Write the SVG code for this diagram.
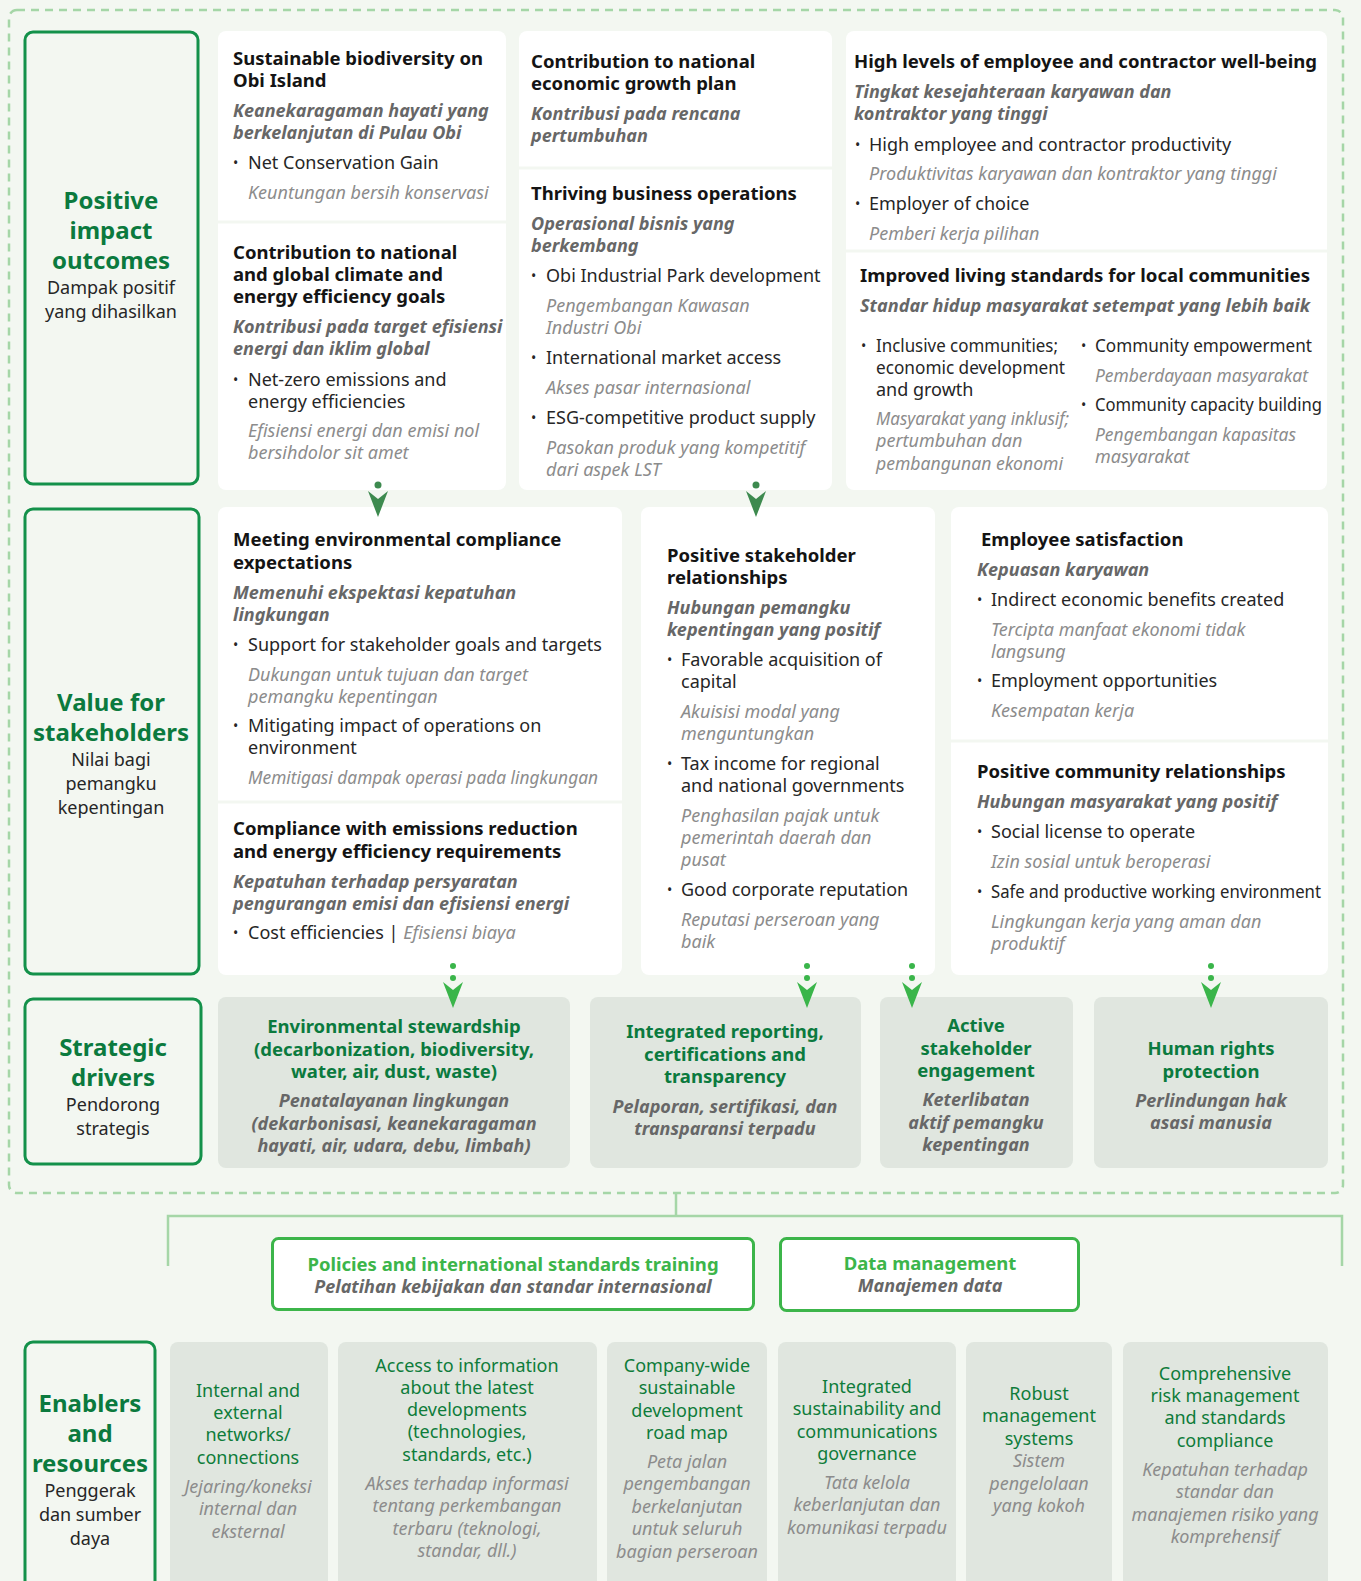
<svg xmlns="http://www.w3.org/2000/svg" width="1361" height="1581" viewBox="0 0 1361 1581">
<style>
text{font-family:"Noto Sans","Open Sans","Liberation Sans",sans-serif}
.t{font-weight:bold;font-size:18.5px;fill:#141414}
.s{font-weight:bold;font-style:italic;font-size:18px;fill:#676767}
.b{font-size:18px;fill:#262626}
.i{font-style:italic;font-size:18px;fill:#8c8c8c}
.dot{font-size:14px;fill:#262626}
.lh{font-weight:bold;font-size:24px;fill:#0b7a3e;text-anchor:middle}
.ls{font-size:18px;fill:#262626;text-anchor:middle}
.dt{font-weight:bold;font-size:18.5px;fill:#0b7a3e;text-anchor:middle}
.di{font-weight:bold;font-style:italic;font-size:18px;fill:#676767;text-anchor:middle}
.et{font-size:18px;fill:#0e7c3a;text-anchor:middle}
.ei{font-style:italic;font-size:18px;fill:#8c8c8c;text-anchor:middle}
.pt{font-weight:bold;font-size:18.5px;fill:#3cb54a;text-anchor:middle}
.lbl{fill:#f3f7f1;stroke:#13914a;stroke-width:3}
.card{fill:#ffffff}
.sep{stroke:#f3f7f1;stroke-width:3}
.gray{fill:#e0e6df}
.conn{fill:none;stroke:#a5d6a7;stroke-width:2.5}
.a1{fill:#3d8a4f}
.a2{fill:#3ab54a}
</style>
<defs>
<path id="ah" d="M-10,0 L0,8 L10,0 L0,26 Z"/>
</defs>
<rect x="0" y="0" width="1361" height="1581" fill="#f3f7f1"/>
<rect x="9" y="10" width="1334" height="1183" rx="8" fill="none" stroke="#a5d6a7" stroke-width="2.5" stroke-dasharray="8 6"/>

<!-- Left labels -->
<g id="label-outcomes">
<rect class="lbl" x="25" y="32" width="173" height="452" rx="8"/>
<text class="lh" x="111" y="209"><tspan x="111">Positive</tspan><tspan x="111" dy="30">impact</tspan><tspan x="111" dy="30">outcomes</tspan></text>
<text class="ls" x="111" y="294"><tspan x="111">Dampak positif</tspan><tspan x="111" dy="24">yang dihasilkan</tspan></text>
</g>
<g id="label-value">
<rect class="lbl" x="25" y="509" width="174" height="465" rx="8"/>
<text class="lh" x="111" y="711"><tspan x="111">Value for</tspan><tspan x="111" dy="30">stakeholders</tspan></text>
<text class="ls" x="111" y="766"><tspan x="111">Nilai bagi</tspan><tspan x="111" dy="24">pemangku</tspan><tspan x="111" dy="24">kepentingan</tspan></text>
</g>
<g id="label-drivers">
<rect class="lbl" x="25" y="999" width="176" height="165" rx="8"/>
<text class="lh" x="113" y="1056"><tspan x="113">Strategic</tspan><tspan x="113" dy="30">drivers</tspan></text>
<text class="ls" x="113" y="1111"><tspan x="113">Pendorong</tspan><tspan x="113" dy="24">strategis</tspan></text>
</g>
<g id="label-enablers">
<rect class="lbl" x="25" y="1342" width="130" height="260" rx="8"/>
<text class="lh" x="90" y="1412"><tspan x="90">Enablers</tspan><tspan x="90" dy="30">and</tspan><tspan x="90" dy="30">resources</tspan></text>
<text class="ls" x="90" y="1497"><tspan x="90">Penggerak</tspan><tspan x="90" dy="24">dan sumber</tspan><tspan x="90" dy="24">daya</tspan></text>
</g>

<!-- Row 1 cards -->
<g id="card-biodiversity-climate">
<rect class="card" x="218" y="31" width="288" height="459" rx="8"/>
<line class="sep" x1="218" y1="222" x2="506" y2="222"/>
<text class="t" x="233" y="65"><tspan x="233">Sustainable biodiversity on</tspan><tspan x="233" dy="22">Obi Island</tspan></text>
<text class="s" x="233" y="117"><tspan x="233">Keanekaragaman hayati yang</tspan><tspan x="233" dy="22">berkelanjutan di Pulau Obi</tspan></text>
<text class="dot" x="233" y="168">•</text>
<text class="b" x="248" y="169">Net Conservation Gain</text>
<text class="i" x="248" y="199">Keuntungan bersih konservasi</text>
<text class="t" x="233" y="259"><tspan x="233">Contribution to national</tspan><tspan x="233" dy="22">and global climate and</tspan><tspan x="233" dy="22">energy efficiency goals</tspan></text>
<text class="s" x="233" y="333"><tspan x="233">Kontribusi pada target efisiensi</tspan><tspan x="233" dy="22">energi dan iklim global</tspan></text>
<text class="dot" x="233" y="385">•</text>
<text class="b" x="248" y="386"><tspan x="248">Net-zero emissions and</tspan><tspan x="248" dy="22">energy efficiencies</tspan></text>
<text class="i" x="248" y="437"><tspan x="248">Efisiensi energi dan emisi nol</tspan><tspan x="248" dy="22">bersihdolor sit amet</tspan></text>
</g>

<g id="card-economic">
<rect class="card" x="519" y="31" width="313" height="459" rx="8"/>
<line class="sep" x1="519" y1="168" x2="832" y2="168"/>
<text class="t" x="531" y="68"><tspan x="531">Contribution to national</tspan><tspan x="531" dy="22">economic growth plan</tspan></text>
<text class="s" x="531" y="120"><tspan x="531">Kontribusi pada rencana</tspan><tspan x="531" dy="22">pertumbuhan</tspan></text>
<text class="t" x="531" y="200">Thriving business operations</text>
<text class="s" x="531" y="230"><tspan x="531">Operasional bisnis yang</tspan><tspan x="531" dy="22">berkembang</tspan></text>
<text class="dot" x="531" y="281">•</text>
<text class="b" x="546" y="282">Obi Industrial Park development</text>
<text class="i" x="546" y="312"><tspan x="546">Pengembangan Kawasan</tspan><tspan x="546" dy="22">Industri Obi</tspan></text>
<text class="dot" x="531" y="363">•</text>
<text class="b" x="546" y="364">International market access</text>
<text class="i" x="546" y="394">Akses pasar internasional</text>
<text class="dot" x="531" y="423">•</text>
<text class="b" x="546" y="424">ESG-competitive product supply</text>
<text class="i" x="546" y="454"><tspan x="546">Pasokan produk yang kompetitif</tspan><tspan x="546" dy="22">dari aspek LST</tspan></text>
</g>

<g id="card-wellbeing-living">
<rect class="card" x="846" y="31" width="481" height="459" rx="8"/>
<line class="sep" x1="846" y1="251" x2="1327" y2="251"/>
<text class="t" x="854" y="68" textLength="463" lengthAdjust="spacingAndGlyphs">High levels of employee and contractor well-being</text>
<text class="s" x="854" y="98"><tspan x="854">Tingkat kesejahteraan karyawan dan</tspan><tspan x="854" dy="22">kontraktor yang tinggi</tspan></text>
<text class="dot" x="855" y="150">•</text>
<text class="b" x="869" y="151">High employee and contractor productivity</text>
<text class="i" x="869" y="180">Produktivitas karyawan dan kontraktor yang tinggi</text>
<text class="dot" x="855" y="209">•</text>
<text class="b" x="869" y="210">Employer of choice</text>
<text class="i" x="869" y="240">Pemberi kerja pilihan</text>
<text class="t" x="860" y="282" textLength="450" lengthAdjust="spacingAndGlyphs">Improved living standards for local communities</text>
<text class="s" x="860" y="312" textLength="450" lengthAdjust="spacingAndGlyphs">Standar hidup masyarakat setempat yang lebih baik</text>
<text class="dot" x="861" y="351">•</text>
<text class="b" x="876" y="352" textLength="182" lengthAdjust="spacingAndGlyphs">Inclusive communities;</text>
<text class="b" x="876" y="374" textLength="189" lengthAdjust="spacingAndGlyphs">economic development</text>
<text class="b" x="876" y="396">and  growth</text>
<text class="i" x="876" y="425" textLength="193" lengthAdjust="spacingAndGlyphs">Masyarakat yang inklusif;</text>
<text class="i" x="876" y="447">pertumbuhan dan</text>
<text class="i" x="876" y="470" textLength="187" lengthAdjust="spacingAndGlyphs">pembangunan ekonomi</text>
<text class="dot" x="1081" y="351">•</text>
<text class="b" x="1095" y="352" textLength="217" lengthAdjust="spacingAndGlyphs">Community empowerment</text>
<text class="i" x="1095" y="382" textLength="213" lengthAdjust="spacingAndGlyphs">Pemberdayaan masyarakat</text>
<text class="dot" x="1081" y="410">•</text>
<text class="b" x="1095" y="411" textLength="227" lengthAdjust="spacingAndGlyphs">Community capacity building</text>
<text class="i" x="1095" y="441" textLength="201" lengthAdjust="spacingAndGlyphs">Pengembangan kapasitas</text>
<text class="i" x="1095" y="463">masyarakat</text>
</g>

<!-- Row 2 cards -->
<g id="card-compliance">
<rect class="card" x="218" y="507" width="404" height="468" rx="8"/>
<line class="sep" x1="218" y1="802" x2="622" y2="802"/>
<text class="t" x="233" y="546"><tspan x="233">Meeting environmental compliance</tspan><tspan x="233" dy="23">expectations</tspan></text>
<text class="s" x="233" y="599"><tspan x="233">Memenuhi ekspektasi kepatuhan</tspan><tspan x="233" dy="22">lingkungan</tspan></text>
<text class="dot" x="233" y="650">•</text>
<text class="b" x="248" y="651">Support for stakeholder goals and targets</text>
<text class="i" x="248" y="681"><tspan x="248">Dukungan untuk tujuan dan target</tspan><tspan x="248" dy="22">pemangku kepentingan</tspan></text>
<text class="dot" x="233" y="731">•</text>
<text class="b" x="248" y="732"><tspan x="248">Mitigating impact of operations on</tspan><tspan x="248" dy="22">environment</tspan></text>
<text class="i" x="248" y="784" textLength="350" lengthAdjust="spacingAndGlyphs">Memitigasi dampak operasi pada lingkungan</text>
<text class="t" x="233" y="835"><tspan x="233">Compliance with emissions reduction</tspan><tspan x="233" dy="23">and energy efficiency requirements</tspan></text>
<text class="s" x="233" y="888"><tspan x="233">Kepatuhan terhadap persyaratan</tspan><tspan x="233" dy="22">pengurangan emisi dan efisiensi energi</tspan></text>
<text class="dot" x="233" y="938">•</text>
<text class="b" x="248" y="939">Cost efficiencies | <tspan class="i">Efisiensi biaya</tspan></text>
</g>

<g id="card-stakeholder">
<rect class="card" x="641" y="507" width="294" height="468" rx="8"/>
<text class="t" x="667" y="562"><tspan x="667">Positive stakeholder</tspan><tspan x="667" dy="22">relationships</tspan></text>
<text class="s" x="667" y="614"><tspan x="667">Hubungan pemangku</tspan><tspan x="667" dy="22">kepentingan yang positif</tspan></text>
<text class="dot" x="667" y="665">•</text>
<text class="b" x="681" y="666"><tspan x="681">Favorable acquisition of</tspan><tspan x="681" dy="22">capital</tspan></text>
<text class="i" x="681" y="718"><tspan x="681">Akuisisi modal yang</tspan><tspan x="681" dy="22">menguntungkan</tspan></text>
<text class="dot" x="667" y="769">•</text>
<text class="b" x="681" y="770"><tspan x="681">Tax income for regional</tspan><tspan x="681" dy="22">and national governments</tspan></text>
<text class="i" x="681" y="822"><tspan x="681">Penghasilan pajak untuk</tspan><tspan x="681" dy="22">pemerintah daerah dan</tspan><tspan x="681" dy="22">pusat</tspan></text>
<text class="dot" x="667" y="895">•</text>
<text class="b" x="681" y="896">Good corporate reputation</text>
<text class="i" x="681" y="926"><tspan x="681">Reputasi perseroan yang</tspan><tspan x="681" dy="22">baik</tspan></text>
</g>

<g id="card-employee-community">
<rect class="card" x="951" y="507" width="377" height="468" rx="8"/>
<line class="sep" x1="951" y1="741" x2="1328" y2="741"/>
<text class="t" x="981" y="546">Employee satisfaction</text>
<text class="s" x="977" y="576">Kepuasan karyawan</text>
<text class="dot" x="977" y="605">•</text>
<text class="b" x="991" y="606">Indirect economic benefits created</text>
<text class="i" x="991" y="636"><tspan x="991">Tercipta manfaat ekonomi tidak</tspan><tspan x="991" dy="22">langsung</tspan></text>
<text class="dot" x="977" y="686">•</text>
<text class="b" x="991" y="687">Employment opportunities</text>
<text class="i" x="991" y="717">Kesempatan kerja</text>
<text class="t" x="977" y="778">Positive community relationships</text>
<text class="s" x="977" y="808">Hubungan masyarakat yang positif</text>
<text class="dot" x="977" y="837">•</text>
<text class="b" x="991" y="838">Social license to operate</text>
<text class="i" x="991" y="868">Izin sosial untuk beroperasi</text>
<text class="dot" x="977" y="897">•</text>
<text class="b" x="991" y="898" textLength="330" lengthAdjust="spacingAndGlyphs">Safe and productive working environment</text>
<text class="i" x="991" y="928"><tspan x="991">Lingkungan kerja yang aman dan</tspan><tspan x="991" dy="22">produktif</tspan></text>
</g>

<!-- Row 3: strategic drivers -->
<g id="driver-environmental">
<rect class="gray" x="218" y="997" width="352" height="171" rx="8"/>
<text class="dt" x="394" y="1033"><tspan x="394">Environmental stewardship</tspan><tspan x="394" dy="23">(decarbonization, biodiversity,</tspan><tspan x="394" dy="22">water, air, dust, waste)</tspan></text>
<text class="di" x="394" y="1107"><tspan x="394">Penatalayanan lingkungan</tspan><tspan x="394" dy="23">(dekarbonisasi, keanekaragaman</tspan><tspan x="394" dy="22">hayati, air, udara, debu, limbah)</tspan></text>
</g>
<g id="driver-reporting">
<rect class="gray" x="590" y="997" width="271" height="171" rx="8"/>
<text class="dt" x="725" y="1038"><tspan x="725">Integrated reporting,</tspan><tspan x="725" dy="23">certifications and</tspan><tspan x="725" dy="22">transparency</tspan></text>
<text class="di" x="725" y="1113"><tspan x="725">Pelaporan, sertifikasi, dan</tspan><tspan x="725" dy="22">transparansi terpadu</tspan></text>
</g>
<g id="driver-engagement">
<rect class="gray" x="880" y="997" width="193" height="171" rx="8"/>
<text class="dt" x="976" y="1032"><tspan x="976">Active</tspan><tspan x="976" dy="23">stakeholder</tspan><tspan x="976" dy="22">engagement</tspan></text>
<text class="di" x="976" y="1106"><tspan x="976">Keterlibatan</tspan><tspan x="976" dy="23">aktif pemangku</tspan><tspan x="976" dy="22">kepentingan</tspan></text>
</g>
<g id="driver-human-rights">
<rect class="gray" x="1094" y="997" width="234" height="171" rx="8"/>
<text class="dt" x="1211" y="1055"><tspan x="1211">Human rights</tspan><tspan x="1211" dy="23">protection</tspan></text>
<text class="di" x="1211" y="1107"><tspan x="1211">Perlindungan hak</tspan><tspan x="1211" dy="22">asasi manusia</tspan></text>
</g>

<!-- Policies / data -->
<g id="policies-training">
<rect x="272.5" y="1238.5" width="481" height="71" rx="6" fill="#ffffff" stroke="#3cb54a" stroke-width="3"/>
<text class="pt" x="513" y="1271">Policies and international standards training</text>
<text class="di" x="513" y="1293">Pelatihan kebijakan dan standar internasional</text>
</g>
<g id="data-management">
<rect x="780.5" y="1238.5" width="298" height="72" rx="6" fill="#ffffff" stroke="#3cb54a" stroke-width="3"/>
<text class="pt" x="930" y="1270">Data management</text>
<text class="di" x="930" y="1292">Manajemen data</text>
</g>

<!-- Enablers -->
<g id="enabler-networks">
<rect class="gray" x="170" y="1342" width="158" height="260" rx="8"/>
<text class="et" x="248" y="1397"><tspan x="248">Internal and</tspan><tspan x="248" dy="22">external</tspan><tspan x="248" dy="22">networks/</tspan><tspan x="248" dy="23">connections</tspan></text>
<text class="ei" x="248" y="1493"><tspan x="248">Jejaring/koneksi</tspan><tspan x="248" dy="22">internal dan</tspan><tspan x="248" dy="23">eksternal</tspan></text>
</g>
<g id="enabler-information">
<rect class="gray" x="338" y="1342" width="259" height="260" rx="8"/>
<text class="et" x="467" y="1372"><tspan x="467">Access to information</tspan><tspan x="467" dy="22">about the latest</tspan><tspan x="467" dy="22">developments</tspan><tspan x="467" dy="22">(technologies,</tspan><tspan x="467" dy="23">standards, etc.)</tspan></text>
<text class="ei" x="467" y="1490"><tspan x="467">Akses terhadap informasi</tspan><tspan x="467" dy="22">tentang perkembangan</tspan><tspan x="467" dy="23">terbaru (teknologi,</tspan><tspan x="467" dy="22">standar, dll.)</tspan></text>
</g>
<g id="enabler-roadmap">
<rect class="gray" x="607" y="1342" width="160" height="260" rx="8"/>
<text class="et" x="687" y="1372"><tspan x="687">Company-wide</tspan><tspan x="687" dy="22">sustainable</tspan><tspan x="687" dy="23">development</tspan><tspan x="687" dy="22">road map</tspan></text>
<text class="ei" x="687" y="1468"><tspan x="687">Peta jalan</tspan><tspan x="687" dy="22">pengembangan</tspan><tspan x="687" dy="23">berkelanjutan</tspan><tspan x="687" dy="22">untuk seluruh</tspan><tspan x="687" dy="23">bagian perseroan</tspan></text>
</g>
<g id="enabler-governance">
<rect class="gray" x="778" y="1342" width="178" height="260" rx="8"/>
<text class="et" x="867" y="1393"><tspan x="867">Integrated</tspan><tspan x="867" dy="22">sustainability and</tspan><tspan x="867" dy="23">communications</tspan><tspan x="867" dy="22">governance</tspan></text>
<text class="ei" x="867" y="1489"><tspan x="867">Tata kelola</tspan><tspan x="867" dy="22">keberlanjutan dan</tspan><tspan x="867" dy="23">komunikasi terpadu</tspan></text>
</g>
<g id="enabler-systems">
<rect class="gray" x="966" y="1342" width="146" height="260" rx="8"/>
<text class="et" x="1039" y="1400"><tspan x="1039">Robust</tspan><tspan x="1039" dy="22">management</tspan><tspan x="1039" dy="23">systems</tspan></text>
<text class="ei" x="1039" y="1467"><tspan x="1039">Sistem</tspan><tspan x="1039" dy="23">pengelolaan</tspan><tspan x="1039" dy="22">yang kokoh</tspan></text>
</g>
<g id="enabler-risk">
<rect class="gray" x="1123" y="1342" width="205" height="260" rx="8"/>
<text class="et" x="1225" y="1380"><tspan x="1225">Comprehensive</tspan><tspan x="1225" dy="22">risk management</tspan><tspan x="1225" dy="22">and standards</tspan><tspan x="1225" dy="23">compliance</tspan></text>
<text class="ei" x="1225" y="1476"><tspan x="1225">Kepatuhan terhadap</tspan><tspan x="1225" dy="22">standar dan</tspan><tspan x="1225" dy="23">manajemen risiko yang</tspan><tspan x="1225" dy="22">komprehensif</tspan></text>
</g>

<!-- Connectors -->
<g id="connectors">
<path class="conn" d="M676,1193 V1216 M168,1266 V1216 H1342 V1266"/>
<g class="a1">
<circle cx="378" cy="485" r="3.5"/><use href="#ah" x="378" y="491"/>
<circle cx="756" cy="485" r="3.5"/><use href="#ah" x="756" y="491"/>
</g>
<g class="a2">
<circle cx="453" cy="966" r="3"/><circle cx="453" cy="978" r="3"/><use href="#ah" x="453" y="982"/>
<circle cx="807" cy="966" r="3"/><circle cx="807" cy="978" r="3"/><use href="#ah" x="807" y="982"/>
<circle cx="912" cy="966" r="3"/><circle cx="912" cy="978" r="3"/><use href="#ah" x="912" y="982"/>
<circle cx="1211" cy="966" r="3"/><circle cx="1211" cy="978" r="3"/><use href="#ah" x="1211" y="982"/>
</g>
</g>
</svg>
